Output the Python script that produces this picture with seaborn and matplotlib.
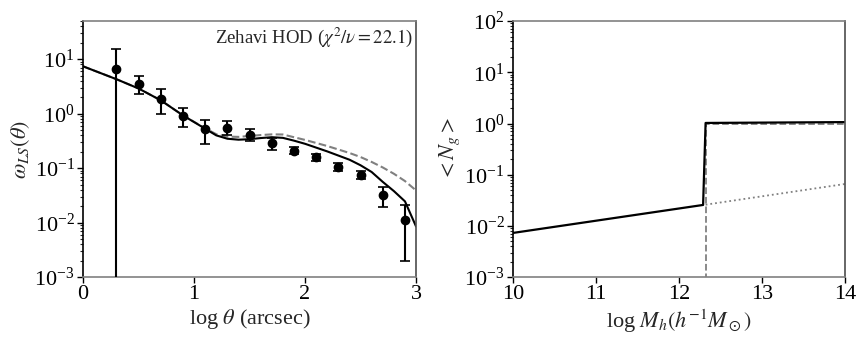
import numpy as np
import pandas as pd
import matplotlib
matplotlib.use("Agg")
import matplotlib.pyplot as plt
import seaborn as sns

# ---- left panel: angular correlation ----
theta_pts = [0.3, 0.5, 0.7, 0.9, 1.1, 1.3, 1.5, 1.7, 1.9, 2.1, 2.3, 2.5, 2.7, 2.9]
w_pts     = [6.7, 3.56, 1.89, 0.906, 0.53, 0.545, 0.41, 0.29, 0.209, 0.158, 0.105, 0.0747, 0.032, 0.0114]
w_hi      = [15.6, 4.85, 2.8, 1.27, 0.776, 0.72, 0.52, 0.357, 0.244, 0.184, 0.124, 0.089, 0.045, 0.0214]
w_lo      = [1e-6, 2.27, 1.0, 0.56, 0.28, 0.41, 0.315, 0.22, 0.18, 0.135, 0.089, 0.063, 0.0194, 0.0020]

theta_model = [0.0, 0.3, 0.5, 0.7, 0.9, 1.1, 1.2, 1.3, 1.4, 1.5, 1.6, 1.7, 1.8, 1.9, 2.0,
               2.2, 2.4, 2.5, 2.6, 2.7, 2.8, 2.9, 3.0]
w_model     = [7.4, 4.3, 2.9, 1.76, 0.93, 0.53, 0.40, 0.347, 0.333, 0.34, 0.357, 0.37, 0.36,
               0.32, 0.28, 0.203, 0.143, 0.113, 0.085, 0.056, 0.038, 0.0246, 0.0085]
w_model2    = [7.4, 4.3, 2.9, 1.76, 0.93, 0.54, 0.42, 0.38, 0.375, 0.39, 0.405, 0.417, 0.415,
               0.37, 0.33, 0.255, 0.19, 0.16, 0.13, 0.103, 0.079, 0.058, 0.039]

# ---- right panel: HOD ----
m_total   = [10.0, 12.29, 12.32, 14.0]
n_total   = [0.0073, 0.0257, 1.026, 1.066]
m_central = [12.32, 12.32, 14.0]
n_central = [1e-4, 1.0, 1.0]
m_sat     = [12.32, 14.0]
n_sat     = [0.026, 0.066]

sns.set_style("ticks")
plt.rcParams["font.family"] = ["Liberation Serif", "DejaVu Serif"]
plt.rcParams["mathtext.fontset"] = "stix"

fig = plt.figure(figsize=(8.65, 3.46), dpi=100)
ax1 = fig.add_axes([0.096, 0.199, 0.385, 0.740])
ax2 = fig.add_axes([0.593, 0.199, 0.384, 0.740])

df_m = pd.DataFrame({"x": theta_model, "y": w_model})
df_m2 = pd.DataFrame({"x": theta_model, "y": w_model2})
sns.lineplot(data=df_m2, x="x", y="y", ax=ax1, color="gray", linestyle="--", lw=1.5)
sns.lineplot(data=df_m, x="x", y="y", ax=ax1, color="black", lw=1.5)

yerr = [np.array(w_pts) - np.array(w_lo), np.array(w_hi) - np.array(w_pts)]
ax1.errorbar(theta_pts, w_pts, yerr=yerr, fmt="o", color="black", ms=6,
             capsize=3.5, elinewidth=1.5, capthick=1.2, zorder=5)

ax1.set_yscale("log")
ax1.set_xlim(0, 3)
ax1.set_ylim(1e-3, 50)
ax1.set_xticks([0, 1, 2, 3])
ax1.set_xlabel(r"log $\theta$ (arcsec)", fontsize=16, labelpad=2)
ax1.set_ylabel(r"$\omega_{LS}(\theta)$", fontsize=16, labelpad=2)
ax1.text(0.99, 0.935, r"Zehavi HOD ($\chi^2/\nu = 22.1$)", transform=ax1.transAxes,
         ha="right", va="center", fontsize=13.5)

df_t = pd.DataFrame({"x": m_total, "y": n_total})
df_c = pd.DataFrame({"x": m_central, "y": n_central})
df_s = pd.DataFrame({"x": m_sat, "y": n_sat})
sns.lineplot(data=df_c, x="x", y="y", ax=ax2, color="gray", linestyle="--", lw=1.3,
             sort=False, estimator=None)
sns.lineplot(data=df_s, x="x", y="y", ax=ax2, color="gray", linestyle=":", lw=1.3)
sns.lineplot(data=df_t, x="x", y="y", ax=ax2, color="black", lw=1.6,
             sort=False, estimator=None)

ax2.set_yscale("log")
ax2.set_xlim(10, 14)
ax2.set_ylim(1e-3, 1e2)
ax2.set_xticks([10, 11, 12, 13, 14])
ax2.set_xlabel(r"log $M_h(h^{-1}M_\odot)$", fontsize=16, labelpad=2)
ax2.set_ylabel(r"$<N_g>$", fontsize=16, labelpad=2)

for ax in (ax1, ax2):
    ax.tick_params(axis="both", which="major", labelsize=16, direction="out",
                   length=4, width=1, colors="black", pad=2)
    ax.tick_params(axis="y", which="minor", direction="out", length=2, width=0.8)
    for side in ("top", "bottom"):
        ax.spines[side].set_color("0.5")
    ax.spines["left"].set_color("black")
    ax.spines["right"].set_color("0.3")
    for s in ax.spines.values():
        s.set_linewidth(1.2)
        s.set_visible(True)

fig.savefig("out.png", dpi=100)
